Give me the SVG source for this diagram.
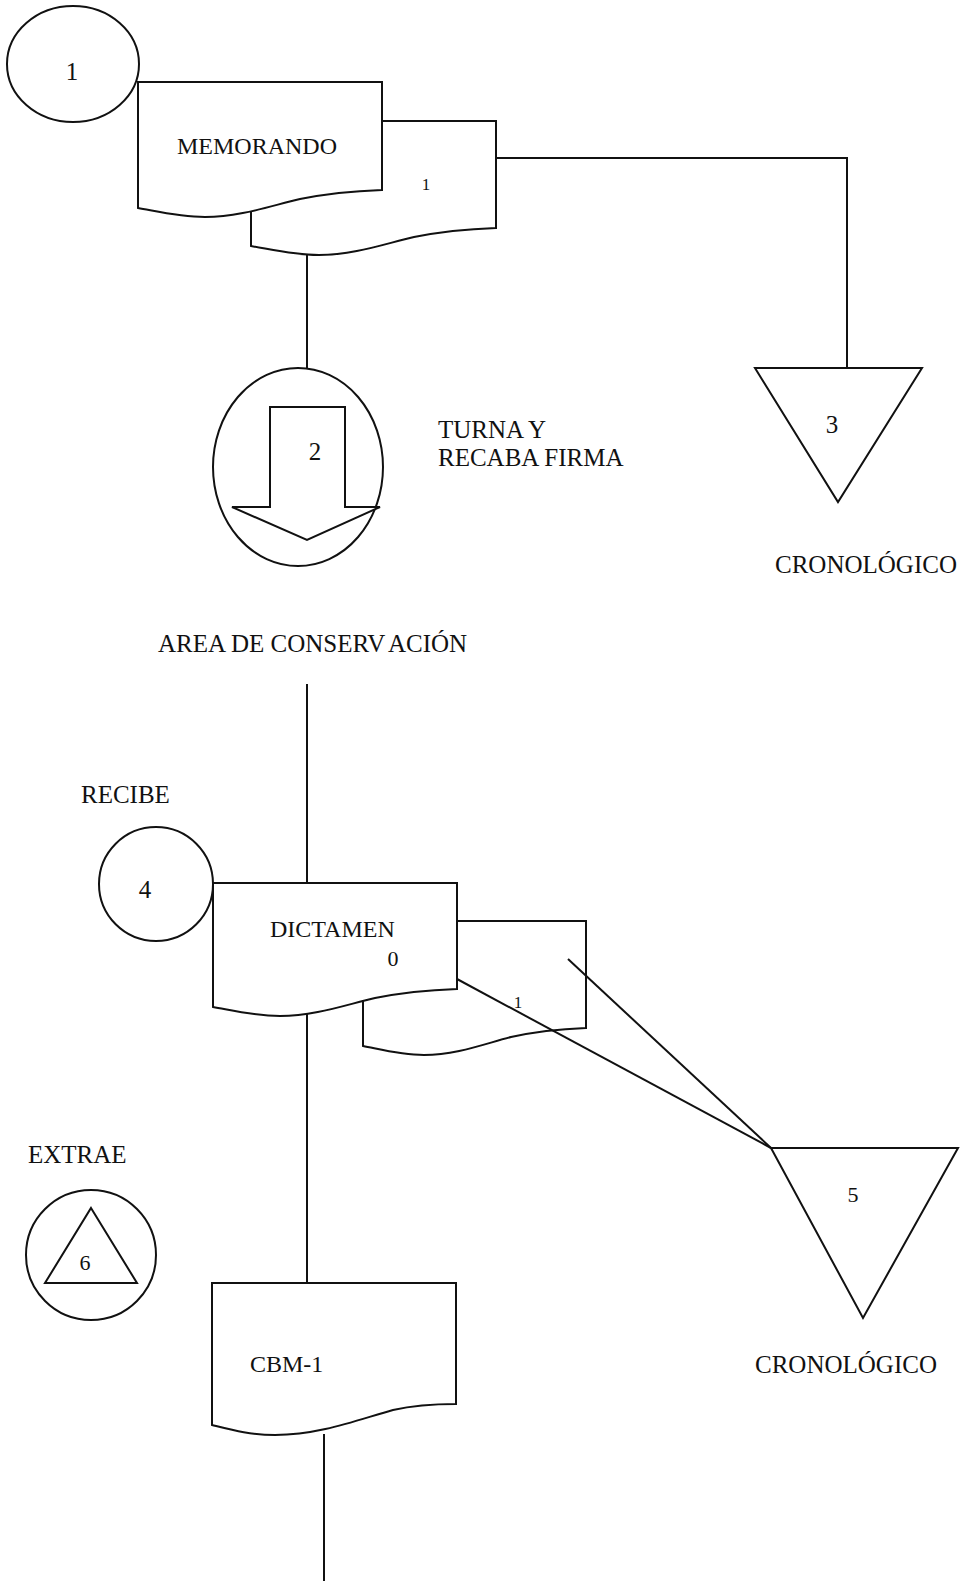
<svg xmlns="http://www.w3.org/2000/svg" width="968" height="1581" viewBox="0 0 968 1581">
  <style>
    .shape { fill: #fff; stroke: #111; stroke-width: 2; stroke-linejoin: miter; }
    .wire { fill: none; stroke: #111; stroke-width: 2; }
    text { font-family: "Liberation Serif", "Times New Roman", serif; fill: #111; }
    .lbl { font-size: 25px; }
    .doc { font-size: 24px; }
    .num { font-size: 25px; text-anchor: middle; }
    .num-s { font-size: 22px; text-anchor: middle; }
    .copy { font-size: 17px; text-anchor: middle; }
  </style>
  <rect width="968" height="1581" fill="#fff"/>

  <!-- step 1: start circle -->
  <g id="n1-start">
    <ellipse class="shape" cx="73" cy="64" rx="66" ry="58"/>
    <text class="num" x="72" y="80">1</text>
  </g>

  <!-- memorandum with its copy -->
  <g id="n-memorando">
    <path class="shape" d="M251,121 H496 V228 C469,229 444,231 414,237 C384,244 354,255 319,255 C294,255 274,250 251,246 Z"/>
    <text class="copy" x="426" y="190">1</text>
    <path class="shape" d="M138,82 H382 V190 C355,191 330,193 300,199 C270,206 240,217 205,217 C180,217 160,212 138,208 Z"/>
    <text class="doc" x="177" y="154" font-size="23.5">MEMORANDO</text>
  </g>

  <!-- step 2: transfer -->
  <g id="n2-turna">
    <ellipse class="shape" cx="298" cy="467" rx="85" ry="99"/>
    <polygon class="shape" points="270,407 345,407 345,507 380,507 307,540 232,507 270,507"/>
    <text class="num" x="315" y="460">2</text>
    <text class="lbl" x="438" y="438" font-size="23">TURNA Y</text>
    <text class="lbl" x="438" y="466" font-size="23">RECABA FIRMA</text>
  </g>

  <!-- step 3: chronological file -->
  <g id="n3-archivo">
    <polygon class="shape" points="755,368 922,368 838,502"/>
    <text class="num" x="832" y="433">3</text>
    <text class="lbl" x="775" y="573" font-size="25.4">CRONOLÓGICO</text>
  </g>

  <g id="n-area">
    <text class="lbl" x="158" y="652" font-size="25.7">AREA DE CONSERV<tspan dx="6">ACIÓN</tspan></text>
  </g>

  <!-- step 4: receive -->
  <g id="n4-recibe">
    <text class="lbl" x="81" y="803">RECIBE</text>
    <circle class="shape" cx="156" cy="884" r="57"/>
    <text class="num" x="145" y="898">4</text>
  </g>

  <!-- opinion document with its copy -->
  <g id="n-dictamen">
    <path class="shape" d="M363,921 H586 V1028 C561,1029 538,1031 511,1037 C484,1044 456,1055 424,1055 C401,1055 383,1050 363,1046 Z"/>
    <path class="shape" d="M213,883 H457 V989 C430,990 405,992 375,998 C345,1005 315,1016 280,1016 C255,1016 235,1011 213,1007 Z"/>
    <text class="doc" x="270" y="937" font-size="25">DICTAMEN</text>
    <text class="num-s" x="393" y="966">0</text>
  </g>

  <!-- step 5: chronological file -->
  <g id="n5-archivo">
    <polygon class="shape" points="771,1148 958,1148 863,1318"/>
    <text class="num-s" x="853" y="1202">5</text>
    <text class="lbl" x="755" y="1373" font-size="25.4">CRONOLÓGICO</text>
  </g>

  <!-- step 6: extract -->
  <g id="n6-extrae">
    <text class="lbl" x="28" y="1163" font-size="23">EXTRAE</text>
    <circle class="shape" cx="91" cy="1255" r="65"/>
    <polygon class="shape" points="91,1208 137,1283 45,1283"/>
    <text class="num-s" x="85" y="1270">6</text>
  </g>

  <!-- form CBM-1 -->
  <g id="n-cbm1">
    <path class="shape" d="M212,1283 H456 V1404 C432,1404 415,1405 393,1410 C360,1419 320,1435 275,1435 C250,1435 232,1430 212,1425 Z"/>
    <text class="doc" x="250" y="1372" font-size="23">CBM-1</text>
  </g>

  <!-- connectors -->
  <g id="connectors">
    <polyline class="wire" points="496,158 847,158 847,368"/>
    <line class="wire" x1="307" y1="254" x2="307" y2="368"/>
    <line class="wire" x1="307" y1="684" x2="307" y2="883"/>
    <line class="wire" x1="457" y1="979" x2="771" y2="1148"/>
    <line class="wire" x1="568" y1="959" x2="771" y2="1148"/>
    <line class="wire" x1="307" y1="1014" x2="307" y2="1283"/>
    <line class="wire" x1="324" y1="1434" x2="324" y2="1581"/>
  </g>
  <!-- copy number of the opinion, printed over the connector -->
  <text class="copy" x="518" y="1008">1</text>
</svg>
